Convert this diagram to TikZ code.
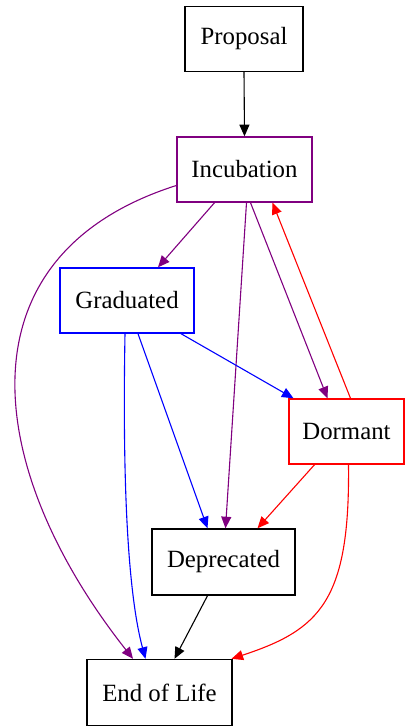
\documentclass[tikz,border=0pt]{standalone}
\usepackage{fontspec}
\setmainfont{Liberation Serif}
\usetikzlibrary{arrows.meta}
\definecolor{gvpurple}{RGB}{128,0,128}
\definecolor{gvblue}{RGB}{0,0,255}
\definecolor{gvred}{RGB}{255,0,0}
\begin{document}
\begin{tikzpicture}[x=0.5pt, y=-0.5pt,
    estado/.style={draw, line width=0.7pt, minimum height=32.5pt, inner sep=0pt,
      font=\fontsize{12.4}{14}\selectfont},
    flecha/.style={line width=0.55pt, -{Triangle[length=5.8pt,width=5pt]}}]
    \useasboundingbox (0,0) rectangle (405,726);

    % Estados
    \node[estado, minimum width=59pt] (prop) at (244,39) {Proposal};
    \node[estado, draw=gvpurple, minimum width=67.5pt] (inc) at (244.5,169.5) {Incubation};
    \node[estado, draw=gvblue, minimum width=67pt] (grad) at (127,300.5) {Graduated};
    \node[estado, draw=gvred, minimum width=57.5pt] (dor) at (346.5,431.5) {Dormant};
    \node[estado, minimum width=71.5pt, minimum height=33pt] (dep) at (223.5,562) {Deprecated};
    \node[estado, minimum width=72.5pt, minimum height=33pt] (eol) at (159.5,692.5) {End of Life};

    % Desde Proposal e Incubation
    \draw[flecha] (prop.south) -- (inc.north);
    \draw[flecha, gvpurple] ([xshift=-15pt]inc.south) -- ([xshift=15.5pt]grad.north);
    \draw[flecha, gvpurple] ([yshift=-8pt]inc.west) .. controls +(-220,70) and +(-150,-190) .. ([xshift=-13.25pt]eol.north);
    \draw[flecha, gvpurple] ([xshift=1pt]inc.south) -- ([xshift=1pt]dep.north);
    \draw[flecha, gvpurple] ([xshift=3pt]inc.south) -- ([xshift=-9.5pt]dor.north);

    % Desde Graduated
    \draw[flecha, gvblue] ([xshift=27pt]grad.south) -- ([xshift=-26.5pt]dor.north);
    \draw[flecha, gvblue] ([xshift=5.5pt]grad.south) -- ([xshift=-8pt]dep.north);
    \draw[flecha, gvblue] ([xshift=-1pt]grad.south) .. controls +(-3,167) and +(-16,-59) .. ([xshift=-7pt]eol.north);

    % Desde Dormant
    \draw[flecha, gvred] ([xshift=2pt]dor.north) -- ([xshift=14pt]inc.south);
    \draw[flecha, gvred] ([xshift=-16pt]dor.south) -- ([xshift=17pt]dep.north);
    \draw[flecha, gvred] ([xshift=1pt]dor.south) .. controls +(1.5,136) and +(88.5,-29) .. ([xshift=36pt]eol.north);

    % Deprecated a End of Life
    \draw[flecha] ([xshift=-8pt]dep.south) -- ([xshift=7.5pt]eol.north);
\end{tikzpicture}
\end{document}
